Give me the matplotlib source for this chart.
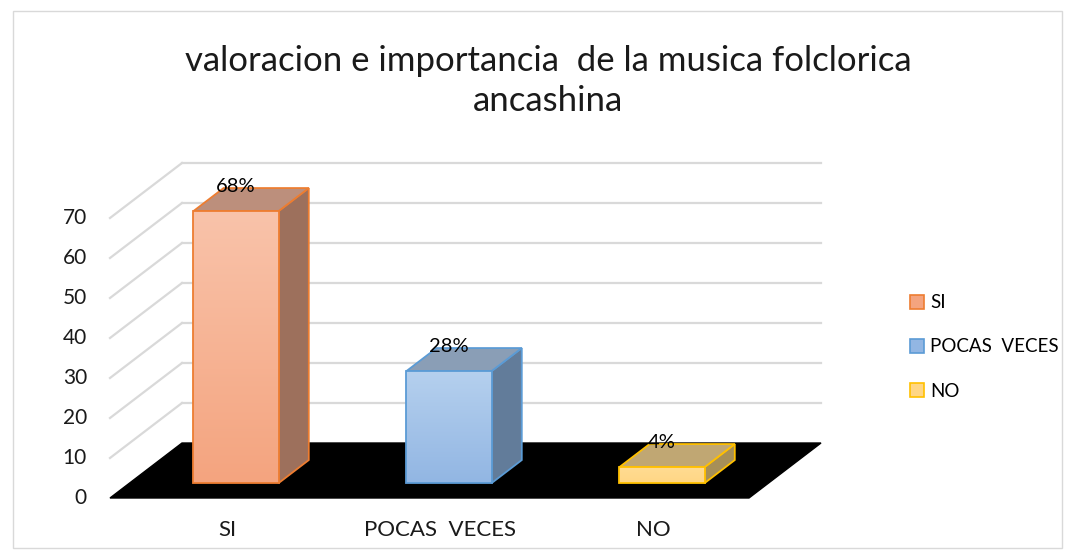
import numpy as np
import matplotlib.pyplot as plt
from matplotlib.patches import Polygon, Rectangle, Patch
from matplotlib.colors import LinearSegmentedColormap

# datos
categorias = ['SI', 'POCAS  VECES', 'NO']
valores = [68, 28, 4]
etiquetas = ['68%', '28%', '4%']
ticks_y = [0, 10, 20, 30, 40, 50, 60, 70]
titulo = 'valoracion e importancia  de la musica folclorica\nancashina'

# estilo de cada barra: (borde, frente arriba, frente abajo, lado, tapa)
estilos = [
    ('#ed7d31', '#f9c3aa', '#f4a47f', '#9d705c', '#bc8f7c'),
    ('#5b9bd5', '#b5d0ee', '#92b6e3', '#627c9a', '#8a9eb6'),
    ('#ffc000', '#ffdc92', '#ffd685', '#a68f58', '#c0a773'),
]

plt.rcParams['font.family'] = ['Lato', 'DejaVu Sans']

fig = plt.figure(figsize=(10.75, 5.58), dpi=100)
ax = fig.add_axes([0, 0, 1, 1])
px_x = 213.0   # pixeles por categoria
px_y = 4.0     # pixeles por unidad
ax.set_xlim(-110 / px_x, (1075 - 110) / px_x)
ax.set_ylim((498 - 558) / px_y, 498 / px_y)
ax.axis('off')

# profundidad oblicua
kx = 72 / px_x
ky = 55 / px_y
n = len(categorias)
gris = '#d9d9d9'

# rejilla pared trasera y pared izquierda
for t in ticks_y[1:]:
    ax.plot([kx, n + kx], [t + ky, t + ky], color=gris, lw=1.6, zorder=1)
    ax.plot([0, kx], [t, t + ky], color=gris, lw=1.6, zorder=1)

# piso negro
piso = Polygon([(0, 0), (n, 0), (n + kx, ky), (kx, ky)], closed=True,
               facecolor='black', edgecolor='black', zorder=2)
ax.add_patch(piso)

# barras 3D
ancho = 0.4
f1, f2 = 0.27, 0.69
for i, (v, est) in enumerate(zip(valores, estilos)):
    borde, c_top, c_bot, lado, tapa = est
    x0 = i + 0.5 - ancho / 2 + f1 * kx
    x1 = x0 + ancho
    y0 = f1 * ky
    y1 = v + f1 * ky
    dx = (f2 - f1) * kx
    dy = (f2 - f1) * ky
    # lado derecho
    ax.add_patch(Polygon([(x1, y0), (x1 + dx, y0 + dy), (x1 + dx, y1 + dy), (x1, y1)],
                         closed=True, facecolor=lado, edgecolor=borde, lw=1.3, zorder=3))
    # tapa
    ax.add_patch(Polygon([(x0, y1), (x1, y1), (x1 + dx, y1 + dy), (x0 + dx, y1 + dy)],
                         closed=True, facecolor=tapa, edgecolor=borde, lw=1.3, zorder=3))
    # frente con degradado
    cmap = LinearSegmentedColormap.from_list('g%d' % i, [c_bot, c_top])
    grad = np.linspace(0, 1, 100).reshape(-1, 1)
    ax.imshow(grad, cmap=cmap, origin='lower', extent=(x0, x1, y0, y1),
              aspect='auto', zorder=4, interpolation='bicubic')
    ax.add_patch(Rectangle((x0, y0), ancho, v, facecolor='none', edgecolor=borde,
                           lw=1.3, zorder=5))
    # etiqueta de valor
    ax.text(i + 0.5 + f1 * kx, v + 0.72 * ky, etiquetas[i], ha='center', va='center',
            fontsize=14.5, color='black', zorder=6)

# etiquetas eje y
for t in ticks_y:
    ax.text(-23 / px_x, t, str(t), ha='right', va='center', fontsize=15, color='#1a1a1a')

# etiquetas eje x
for i, c in enumerate(categorias):
    ax.text(i + 0.55, -8, c, ha='center', va='center', fontsize=16, color='#1a1a1a')

ax.set_aspect('auto')

# titulo
fig.text(0.51, 1 - 81 / 558, titulo, ha='center', va='center', fontsize=25,
         color='#1a1a1a', linespacing=1.28)

# leyenda
handles = [Patch(facecolor=e[2], edgecolor=e[0], lw=1.2) for e in estilos]
fig.legend(handles, categorias, loc='center left',
           bbox_to_anchor=(893 / 1075, 1 - 347 / 558), frameon=False,
           fontsize=13.5, handlelength=0.75, handleheight=0.75, handletextpad=0.35,
           labelspacing=1.45)

# borde del grafico
fig.patches.append(Rectangle((13 / 1075, 10 / 558), 1049 / 1075, 537 / 558,
                             transform=fig.transFigure, facecolor='none',
                             edgecolor=gris, lw=1.0))

fig.savefig('out.png', dpi=100)
